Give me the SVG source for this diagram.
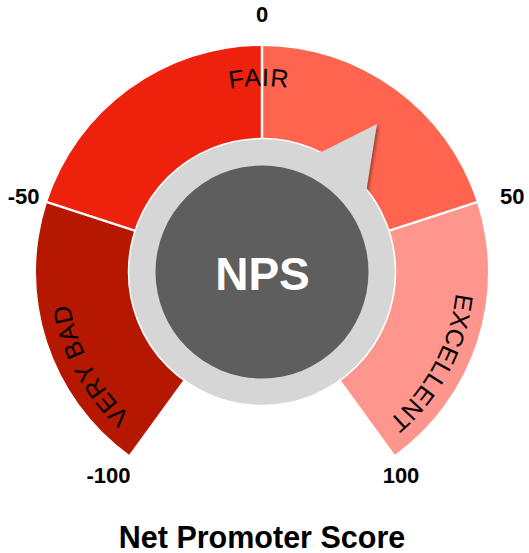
<svg xmlns="http://www.w3.org/2000/svg" xmlns:xlink="http://www.w3.org/1999/xlink" width="529" height="553" viewBox="0 0 529 553">
<style>
.tick{font-family:"Liberation Sans",Arial,sans-serif;font-weight:bold;font-size:22px;fill:#000}
.lbl{font-family:"Liberation Sans",Arial,sans-serif;font-size:25px;fill:#000}
.sep{stroke:#fff;stroke-width:2.5;fill:none}
</style>
<defs>
<path id="arcTop" d="M 76,272 A 186 186 0 0 1 448,272"/>
<path id="arcFull" d="M 262,467 A 195 195 0 0 1 262,77 A 195 195 0 0 1 262,467"/>
<filter id="blur" x="-50%" y="-50%" width="200%" height="200%"><feGaussianBlur stdDeviation="1.5"/></filter>
<mask id="outside"><rect width="529" height="553" fill="#fff"/><circle cx="262" cy="272" r="133.5" fill="#000"/></mask>
</defs>
<rect width="529" height="553" fill="#fff"/>
<g id="segments">
<path id="seg-verybad" d="M 129.16,454.84 A 226 226 0 0 1 47.06,202.16 L 147.87,234.92 A 120 120 0 0 0 191.47,369.08 Z" fill="#B51700"/>
<path id="seg-fair-left" d="M 47.06,202.16 A 226 226 0 0 1 262,46 L 262,152 A 120 120 0 0 0 147.87,234.92 Z" fill="#EE220C"/>
<path id="seg-fair-right" d="M 262,46 A 226 226 0 0 1 476.94,202.16 L 376.13,234.92 A 120 120 0 0 0 262,152 Z" fill="#FF644E"/>
<path id="seg-excellent" d="M 476.94,202.16 A 226 226 0 0 1 394.84,454.84 L 332.53,369.08 A 120 120 0 0 0 376.13,234.92 Z" fill="#FF968D"/>
</g>
<g id="connectors">
<line class="sep" x1="143.12" y1="233.37" x2="43.26" y2="200.93"/>
<line class="sep" x1="262" y1="147" x2="262" y2="42"/>
<line class="sep" x1="380.88" y1="233.37" x2="480.74" y2="200.93"/>
</g>
<g id="labels">
<text class="lbl" font-size="26" letter-spacing="0.8"><textPath xlink:href="#arcTop" href="#arcTop" startOffset="49.5%" text-anchor="middle">FAIR</textPath></text>
<text class="lbl" letter-spacing="0.6"><textPath xlink:href="#arcFull" href="#arcFull" startOffset="17.08%" text-anchor="middle">VERY BAD</textPath></text>
<text class="lbl" font-size="24" letter-spacing="0.2"><textPath xlink:href="#arcFull" href="#arcFull" startOffset="82.78%" text-anchor="middle">EXCELLENT</textPath></text>
</g>
<g id="gauge-center">
<circle cx="262" cy="272" r="133.5" fill="#D6D6D6" stroke="#fff" stroke-width="1.5"/>
<polygon points="379,126 367.8,196.2 318.3,156.4" fill="#000" opacity="0.35" filter="url(#blur)" mask="url(#outside)"/>
<polygon id="pointer" points="377,124 365.8,194.2 316.3,154.4" fill="#D6D6D6"/>
<circle cx="262" cy="272" r="106.5" fill="#5E5E5E"/>
<text x="262.5" y="290" text-anchor="middle" font-family="Liberation Sans,Arial,sans-serif" font-weight="bold" font-size="46" fill="#fff">NPS</text>
</g>
<g id="ticks">
<text class="tick" x="262" y="22" text-anchor="middle">0</text>
<text class="tick" x="39.5" y="204" text-anchor="end">-50</text>
<text class="tick" x="500" y="204">50</text>
<text class="tick" x="108.5" y="483" text-anchor="middle">-100</text>
<text class="tick" x="401" y="483" text-anchor="middle">100</text>
</g>
<text id="title" x="262" y="548" text-anchor="middle" font-family="Liberation Sans,Arial,sans-serif" font-weight="bold" font-size="30.5" fill="#000">Net Promoter Score</text>
</svg>
